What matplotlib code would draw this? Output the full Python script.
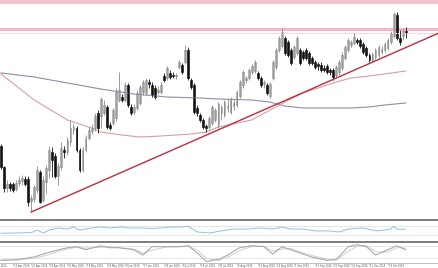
import matplotlib
matplotlib.use("Agg")
import matplotlib.pyplot as plt
import matplotlib.transforms as mtransforms
import numpy as np

# ---- data (chart points, no price scale is shown) ----
open_pts = [74, 53, 32, 36, 36, 31, 37, 39, 41, 41,
            19, 21, 30, 48, 20, 38, 50, 68, 64, 44,
            53, 70, 68, 78, 90, 92, 70, 50, 70, 82,
            89, 92, 107, 104, 107, 113, 95, 97, 102, 120,
            123, 120, 135, 113, 108, 112, 117, 128, 127, 138,
            135, 132, 128, 128, 144, 142, 147, 145, 144, 153,
            155, 158, 170, 140, 135, 112, 105, 100, 94, 93,
            97, 100, 95, 107, 105, 112, 108, 114, 115, 124,
            135, 140, 142, 148, 149, 147, 142, 136, 135, 124,
            142, 153, 170, 174, 182, 178, 170, 163, 167, 170,
            168, 170, 167, 162, 158, 156, 155, 152, 154, 150,
            150, 145, 148, 152, 162, 170, 175, 177, 180, 180,
            176, 172, 165, 160, 163, 165, 168, 170, 172, 178,
            184, 205, 182, 184, 189]
close_pts = [53, 32, 36, 32, 30, 37, 40, 42, 36, 18,
             22, 33, 50, 18, 40, 52, 70, 60, 44, 54,
             72, 68, 80, 92, 93, 70, 50, 70, 82, 90,
             92, 104, 92, 121, 115, 93, 92, 110, 128, 130,
             120, 135, 115, 107, 113, 127, 133, 138, 140, 136,
             125, 123, 130, 135, 140, 152, 143, 144, 145, 158,
             148, 170, 142, 133, 108, 107, 100, 93, 92, 102,
             113, 110, 116, 113, 118, 114, 121, 117, 128, 138,
             148, 142, 150, 154, 158, 142, 135, 138, 127, 136,
             158, 170, 182, 188, 167, 165, 157, 173, 182, 157,
             162, 162, 157, 157, 153, 154, 150, 150, 148, 148,
             143, 153, 158, 165, 173, 180, 178, 183, 178, 174,
             168, 165, 160, 166, 170, 173, 171, 176, 180, 187,
             206, 182, 178, 189, 187]
high_pts = [76, 54, 40, 38, 38, 40, 44, 45, 44, 44,
            25, 35, 54, 50, 44, 55, 74, 73, 67, 57,
            78, 74, 83, 100, 96, 94, 72, 73, 85, 93,
            96, 107, 110, 123, 120, 115, 98, 112, 132, 148,
            126, 138, 137, 116, 116, 130, 135, 140, 142, 141,
            138, 135, 134, 138, 147, 154, 150, 148, 147, 160,
            157, 175, 173, 142, 137, 115, 107, 102, 96, 104,
            115, 112, 118, 115, 120, 122, 123, 120, 130, 140,
            150, 144, 152, 156, 160, 149, 144, 140, 137, 138,
            160, 172, 184, 192, 184, 180, 172, 175, 184, 172,
            170, 172, 169, 164, 160, 158, 158, 155, 156, 152,
            152, 155, 160, 168, 175, 182, 180, 187, 182, 182,
            178, 174, 167, 168, 172, 175, 174, 178, 182, 189,
            208, 208, 190, 192, 193]
low_pts = [51, 28, 28, 29, 28, 29, 34, 35, 34, 14,
           8, 18, 27, 17, 18, 27, 42, 43, 42, 35,
           50, 62, 65, 74, 86, 68, 48, 48, 68, 80,
           86, 89, 87, 92, 105, 91, 90, 95, 99, 118,
           118, 118, 113, 105, 106, 110, 115, 125, 125, 132,
           123, 121, 126, 126, 138, 140, 141, 142, 141, 151,
           146, 156, 140, 131, 106, 104, 98, 91, 88, 91,
           95, 98, 92, 100, 103, 108, 106, 110, 113, 122,
           132, 137, 140, 146, 147, 140, 133, 132, 125, 122,
           140, 151, 168, 172, 165, 163, 155, 161, 165, 155,
           160, 160, 155, 155, 151, 150, 148, 148, 146, 145,
           140, 142, 145, 150, 160, 168, 173, 175, 176, 172,
           166, 163, 158, 158, 161, 163, 166, 168, 170, 176,
           182, 180, 175, 180, 182]

# moving averages, sampled along the curves
ma_slow_bars = [0, 11, 22, 33, 44, 55, 66, 72, 83, 89, 94, 100, 105, 111, 116, 122, 127, 134]
ma_slow_pts = [147, 143, 137, 131, 126, 123, 122, 121, 120, 118, 114, 112, 112, 112, 112, 113, 115, 117]
ma_fast_bars = [0, 11, 22, 30, 33, 40, 46, 53, 58, 63, 68, 72, 83, 91, 94, 100, 105, 111, 116, 122, 127, 134]
ma_fast_pts = [146, 120, 100, 92, 88, 85, 83, 84, 85, 86, 88, 93, 100, 113, 118, 127, 132, 138, 142, 144, 146, 149]

# drawn objects
trend_bars = [10, 145]
trend_pts = [8, 187]
zone_top = (216, 220)
zone_mid = (189, 192)
zone_mid_edge = 187

# RSI
rsi_bars = [0, 4, 10, 12, 14, 16, 19, 22, 24, 26, 30, 33, 36, 40, 42, 46, 50, 53, 56, 60,
            62, 65, 69, 71, 73, 77, 82, 86, 90, 93, 96, 100, 104, 109, 112, 115, 120, 123, 125, 129,
            130, 131, 132, 134]
rsi_vals = [37, 38, 40, 52, 38, 52, 62, 57, 67, 52, 62, 67, 62, 67, 62, 62, 60, 62, 66, 67,
            70, 43, 38, 43, 48, 57, 57, 62, 57, 67, 57, 57, 48, 48, 43, 57, 62, 52, 48, 57,
            71, 57, 55, 57]

# stochastic
st_bars = [0, 5, 11, 15, 19, 22, 25, 28, 33, 36, 39, 44, 47, 50, 55, 59, 62, 65, 68, 72,
           75, 79, 83, 87, 90, 93, 96, 99, 103, 108, 111, 115, 118, 121, 124, 128, 131, 134]
st_main = [10, 14, 27, 46, 62, 72, 77, 62, 82, 72, 72, 62, 36, 77, 77, 77, 82, 46, 5, 15,
           36, 72, 82, 77, 41, 77, 62, 46, 26, 10, 15, 77, 87, 77, 36, 62, 82, 62]
st_signal = [12, 12, 20, 36, 54, 66, 74, 70, 74, 76, 72, 66, 46, 60, 76, 77, 80, 60, 20, 10,
             26, 58, 78, 80, 55, 66, 68, 52, 34, 16, 12, 55, 80, 82, 52, 50, 72, 70]

# first label is only visible as its year at the left edge
date_bars = [0, 4, 10, 16, 22, 28, 35, 41, 47, 54, 60, 66, 72, 78, 85, 91, 97, 104, 110, 116, 122, 128]
date_labels = ["2016", "12 Apr 2016", "21 Apr 2016", "30 Apr 2016", "10 May 2016",
               "19 May 2016", "29 May 2016", "8 Jun 2016", "17 Jun 2016", "28 Jun 2016",
               "8 Jul 2016", "18 Jul 2016", "28 Jul 2016", "5 Aug 2016", "15 Aug 2016",
               "23 Aug 2016", "1 Sep 2016", "13 Sep 2016", "22 Sep 2016", "30 Sep 2016",
               "11 Oct 2016", "19 Oct 2016"]

# ---- layout ----
W, H = 439, 268
BAR_PX = 3.02
fig = plt.figure(figsize=(W / 100, H / 100), dpi=100)


def px_axes(top, bottom):
    a = fig.add_axes([0, (H - bottom) / H, 1, (bottom - top) / H])
    a.set_xlim(-1 / BAR_PX, (W - 1) / BAR_PX)
    a.set_xticks([]); a.set_yticks([])
    for s in a.spines.values():
        s.set_visible(False)
    return a


ax = px_axes(0, 218)
ax_rsi = px_axes(220, 241)
ax_st = px_axes(242, 262.5)

# ---- main panel ----
ax.set_ylim(2, 220)
ax.axhspan(*zone_top, color="#f3c3ce", lw=0)
ax.axhspan(*zone_mid, color="#f2b8c6", lw=0)
ax.axhline(zone_mid_edge, color="#f7d9e0", lw=0.8)

ax.plot(ma_slow_bars, ma_slow_pts, color="#8e8ea8", lw=0.8)
ax.plot(ma_fast_bars, ma_fast_pts, color="#d6a0a0", lw=0.8)

o = np.array(open_pts); c = np.array(close_pts)
hi = np.array(high_pts); lo = np.array(low_pts)
x = np.arange(len(o))
up = c >= o
ax.vlines(x[up], lo[up], hi[up], color="#8a8a8a", lw=0.6)
ax.vlines(x[~up], lo[~up], hi[~up], color="#111111", lw=0.6)
ax.bar(x[up], c[up] - o[up], bottom=o[up], width=0.62,
       color="white", edgecolor="#8a8a8a", lw=0.45)
ax.bar(x[~up], o[~up] - c[~up], bottom=c[~up], width=0.62,
       color="#111111", edgecolor="#111111", lw=0.45)

ax.plot(trend_bars, trend_pts, color="#bf2c3c", lw=1.0)

# ---- RSI ----
ax_rsi.set_ylim(0, 100)
ax_rsi.spines["top"].set_visible(True)
ax_rsi.spines["top"].set_color("#7c7c7c")
ax_rsi.spines["top"].set_linewidth(1.4)
for lev in (70, 30):
    ax_rsi.axhline(lev, color="#dcdcdc", lw=0.5)
ax_rsi.plot(rsi_bars, rsi_vals, color="#8ec2d8", lw=0.7)

# ---- stochastic ----
ax_st.set_ylim(0, 100)
ax_st.spines["top"].set_visible(True)
ax_st.spines["top"].set_color("#7c7c7c")
ax_st.spines["top"].set_linewidth(1.4)
ax_st.spines["bottom"].set_visible(True)
ax_st.spines["bottom"].set_color("#b4b4b4")
ax_st.spines["bottom"].set_linewidth(0.6)
for lev in (80, 20):
    ax_st.axhline(lev, color="#dcdcdc", lw=0.5)
ax_st.plot(st_bars, st_signal, color="#cfcfcf", lw=0.7)
ax_st.plot(st_bars, st_main, color="#a2a2a2", lw=0.7)

# date labels under the last panel
trans = mtransforms.blended_transform_factory(ax_st.transData, ax_st.transAxes)
for b, lab in zip(date_bars, date_labels):
    if b > 0:
        ax_st.plot([b, b], [0, -0.1], color="#9a9a9a", lw=0.4, transform=trans, clip_on=False)
    ax_st.text(b + 0.35 if b > 0 else 0, -0.06, lab, transform=trans, fontsize=1.8,
               color="#555555", ha="left", va="top", clip_on=False)

fig.savefig("out.png", dpi=100)
